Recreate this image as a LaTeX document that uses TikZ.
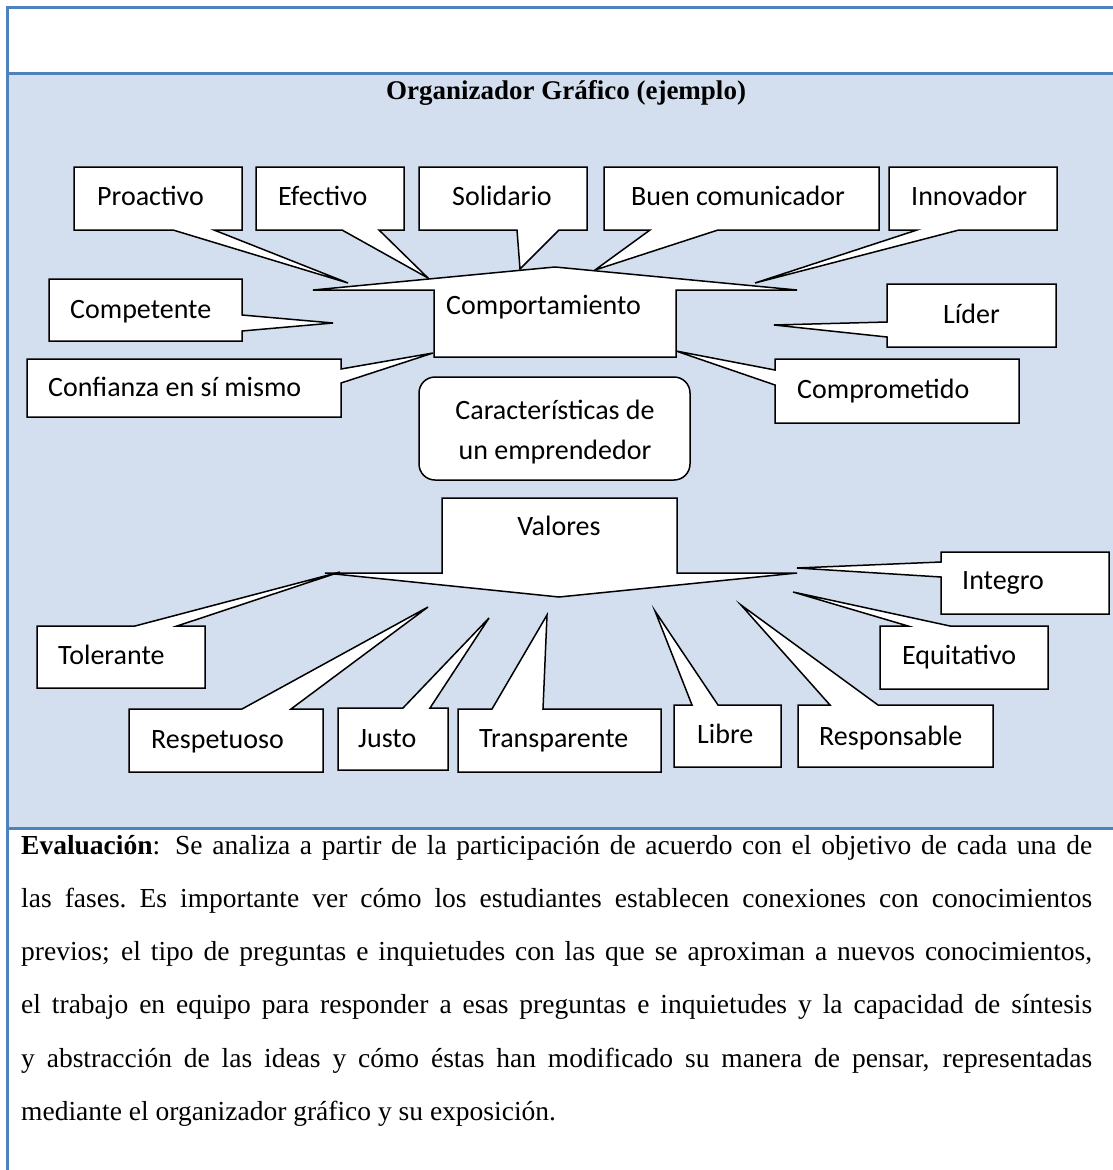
\documentclass[tikz,border=0pt]{standalone}
\usepackage{fontspec}
\setmainfont{Liberation Serif}
\newfontfamily\carlito{Carlito}
\definecolor{frameblue}{HTML}{4F81BD}
\definecolor{paleblue}{HTML}{D3DFEE}
\tikzset{
  callout/.style={draw=black, fill=white, line width=1.5pt, line join=miter},
  lbl/.style={font=\carlito\fontsize{28}{34}\selectfont, anchor=base west, inner sep=0pt},
  body/.style={font=\fontsize{27.5}{34}\selectfont, anchor=base west, inner sep=0pt}
}
\begin{document}
\begin{tikzpicture}[x=1pt, y=-1pt]
\useasboundingbox (0,0) rectangle (1113,1170);
\fill[paleblue] (7,73) rectangle (1113,828);
\draw[frameblue, line width=3pt] (7,1170) -- (7,7) -- (1113,7);
\draw[frameblue, line width=3pt] (7,73) -- (1113,73);
\draw[frameblue, line width=3pt] (7,828) -- (1113,828);

\node[font=\bfseries\fontsize{27}{32}\selectfont, anchor=base, inner sep=0pt] (title) at (566,99) {Organizador Gráfico (ejemplo)};

% comportamiento
\draw[callout] (74,167) -- (242,167) -- (242,230) -- (214,230) -- (348,283) -- (173,230) -- (74,230) -- cycle;
\draw[callout] (256,167) -- (404,167) -- (404,230) -- (379,230) -- (428,278) -- (342,230) -- (256,230) -- cycle;
\draw[callout] (419,167) -- (587,167) -- (587,230) -- (559,230) -- (520,269) -- (517,230) -- (419,230) -- cycle;
\draw[callout] (604,167) -- (879,167) -- (879,230) -- (718,230) -- (595,270) -- (650,230) -- (604,230) -- cycle;
\draw[callout] (889,167) -- (1057,167) -- (1057,230) -- (959,230) -- (755,283) -- (917,230) -- (889,230) -- cycle;
\draw[callout] (49,279) -- (242,279) -- (242,315) -- (333,323) -- (242,331) -- (242,341) -- (49,341) -- cycle;
\draw[callout] (27,359) -- (341,359) -- (341,369) -- (433,353) -- (341,383) -- (341,417) -- (27,417) -- cycle;
\draw[callout] (887,284) -- (1056,284) -- (1056,347) -- (887,347) -- (887,337) -- (774,325) -- (887,322) -- cycle;
\draw[callout] (775,359) -- (1019,359) -- (1019,423) -- (775,423) -- (775,385) -- (676,351) -- (775,370) -- cycle;
\draw[callout] (434,290) -- (313,290) -- (555,267) -- (797,290) -- (676,290) -- (676,357) -- (434,357) -- cycle;

\node[lbl] (proactivo) at (97,205) {Proactivo};
\node[lbl] (efectivo) at (278,205) {Efectivo};
\node[lbl] (solidario) at (452,205) {Solidario};
\node[lbl] (buencom) at (631,205) {Buen comunicador};
\node[lbl] (innovador) at (911,205) {Innovador};
\node[lbl] (competente) at (70,318) {Competente};
\node[lbl] (confianza) at (48,396) {Confianza en sí mismo};
\node[lbl] (lider) at (943,323) {Líder};
\node[lbl] (comprometido) at (797,398) {Comprometido};
\node[lbl] (comportamiento) at (446,314) {Comportamiento};

% centro
\draw[callout, rounded corners=16pt] (419,377) rectangle (690,480);
\node[lbl, anchor=base] (caract1) at (555,419) {Características de};
\node[lbl, anchor=base] (caract2) at (555,459) {un emprendedor};

% valores
\draw[callout] (442,498) -- (677,498) -- (677,573) -- (797,573) -- (559,597) -- (325,573) -- (442,573) -- cycle;
\draw[callout] (37,626) -- (135,626) -- (340,572) -- (177,626) -- (205,626) -- (205,688) -- (37,688) -- cycle;
\draw[callout] (129,709) -- (242,709) -- (428,607) -- (291,709) -- (323,709) -- (323,772) -- (129,772) -- cycle;
\draw[callout] (338,708) -- (403,708) -- (489,618) -- (430,708) -- (448,708) -- (448,770) -- (338,770) -- cycle;
\draw[callout] (458,709) -- (492,709) -- (547,615) -- (543,709) -- (661,709) -- (661,772) -- (458,772) -- cycle;
\draw[callout] (674,705) -- (692,705) -- (655,611) -- (718,705) -- (781,705) -- (781,767) -- (674,767) -- cycle;
\draw[callout] (798,705) -- (830,705) -- (741,605) -- (878,705) -- (993,705) -- (993,767) -- (798,767) -- cycle;
\draw[callout] (941,552) -- (1109,552) -- (1109,614) -- (941,614) -- (941,577) -- (797,568) -- (941,562) -- cycle;
\draw[callout] (880,626) -- (908,626) -- (793,592) -- (950,626) -- (1048,626) -- (1048,689) -- (880,689) -- cycle;

\node[lbl, anchor=base] (valores) at (559,535) {Valores};
\node[lbl] (tolerante) at (58,664) {Tolerante};
\node[lbl] (respetuoso) at (151,748) {Respetuoso};
\node[lbl] (justo) at (358,747) {Justo};
\node[lbl] (transparente) at (479,747) {Transparente};
\node[lbl] (libre) at (697,743) {Libre};
\node[lbl] (responsable) at (819,745) {Responsable};
\node[lbl] (integro) at (962,589) {Integro};
\node[lbl] (equitativo) at (902,664) {Equitativo};

% evaluacion
\node[body] (eval1) at (21,854) {\makebox[1071pt][s]{\textbf{Evaluación}: Se analiza a partir de la participación de acuerdo con el objetivo de cada una de}};
\node[body] (eval2) at (21,907) {\makebox[1071pt][s]{las fases.\ Es importante ver cómo los estudiantes establecen conexiones con conocimientos}};
\node[body] (eval3) at (21,960) {\makebox[1071pt][s]{previos; el tipo de preguntas e inquietudes con las que se aproximan a nuevos conocimientos,}};
\node[body] (eval4) at (21,1013) {\makebox[1071pt][s]{el trabajo en equipo para responder a esas preguntas e inquietudes y la capacidad de síntesis}};
\node[body] (eval5) at (21,1067) {\makebox[1071pt][s]{y abstracción de las ideas y cómo éstas han modificado su manera de pensar, representadas}};
\node[body] (eval6) at (21,1120) {mediante el organizador gráfico y su exposición.};
\end{tikzpicture}
\end{document}
